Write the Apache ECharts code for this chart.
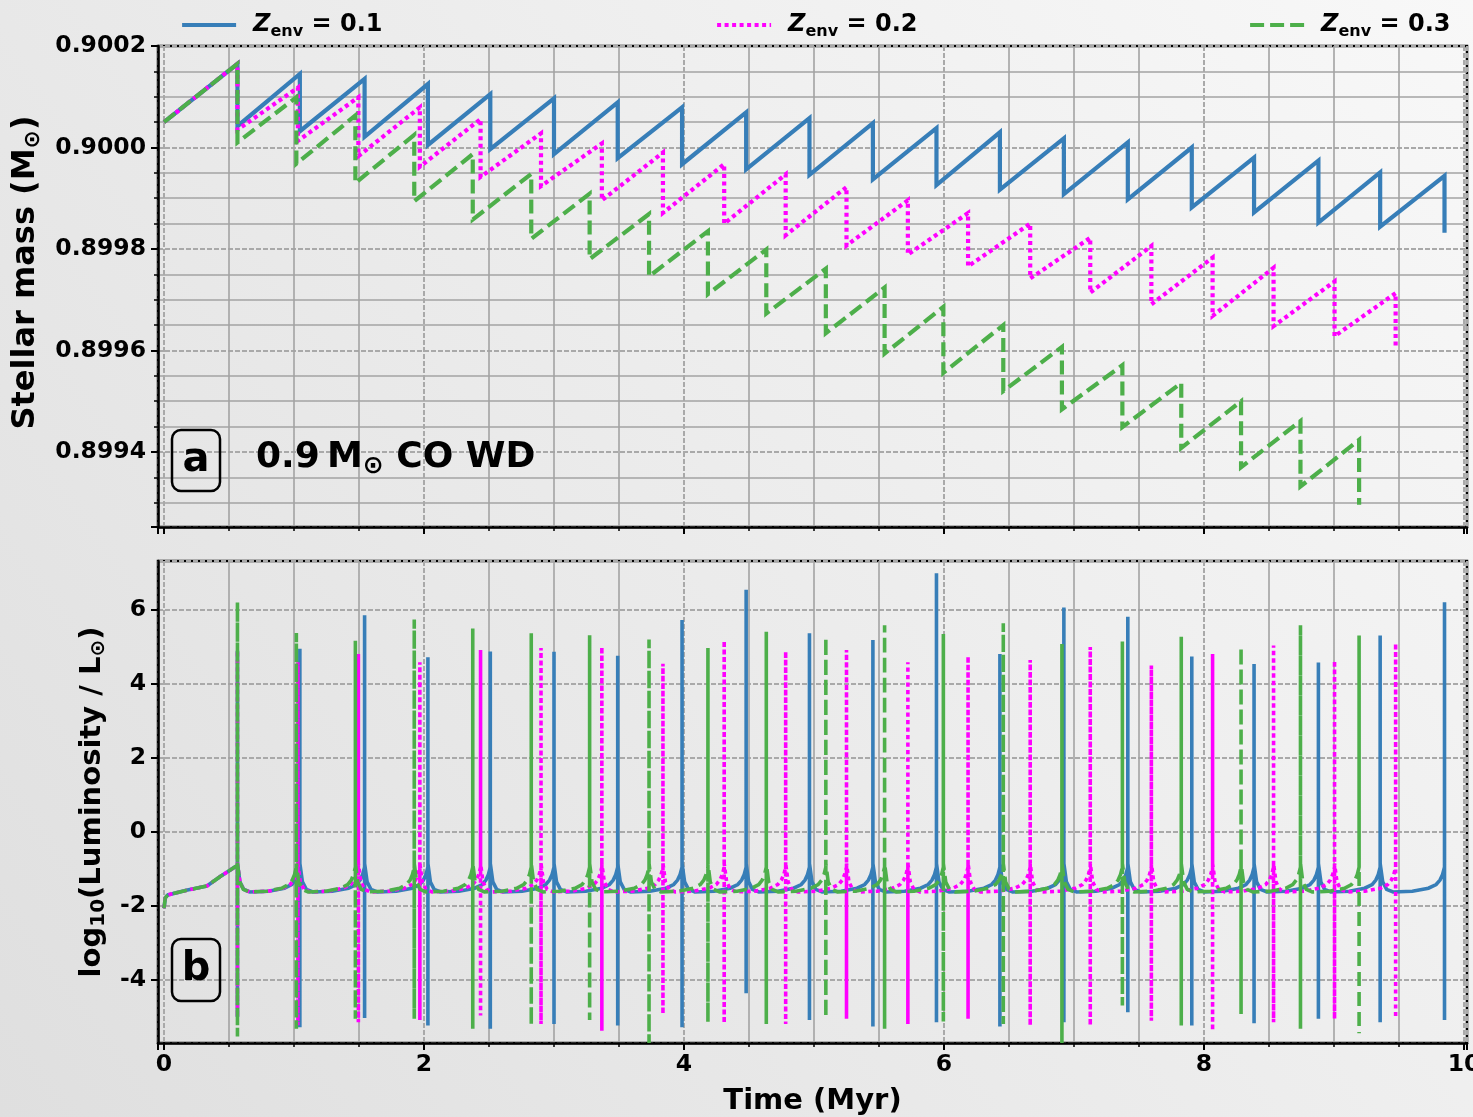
<!DOCTYPE html>
<html>
<head>
<meta charset="utf-8">
<title>Nova cycles of a 0.9 Msun CO white dwarf</title>
<script src="https://cdn.jsdelivr.net/npm/echarts@6/dist/echarts.min.js"></script>
<style>
  html, body { margin: 0; padding: 0; }
  #chart { width: 1473px; height: 1117px; }
</style>
</head>
<body>
<div id="chart"></div>
<script>
// ---- Flash epochs (Myr) for each envelope metallicity ----
const flashT_01 = [0.565, 1.045, 1.543, 2.03, 2.51, 3.0, 3.49, 3.985, 4.478, 4.965, 5.453, 5.942, 6.43, 6.922, 7.414, 7.906, 8.385, 8.88, 9.355, 9.85];
const flashT_02 = [0.565, 1.03, 1.495, 1.968, 2.435, 2.9, 3.368, 3.838, 4.309, 4.782, 5.25, 5.722, 6.185, 6.663, 7.125, 7.595, 8.066, 8.535, 9.004, 9.474];
const flashT_03 = [0.565, 1.018, 1.472, 1.925, 2.375, 2.825, 3.274, 3.731, 4.184, 4.633, 5.091, 5.543, 5.995, 6.456, 6.907, 7.372, 7.825, 8.285, 8.742, 9.193];

// ---- Stellar mass (Msun): value at t = 0, just before and just after each flash ----
const massStart = 0.90005;
const massPeak_01 = [0.900165, 0.900145, 0.900135, 0.900125, 0.900105, 0.900097, 0.900089, 0.900079, 0.900069, 0.900058, 0.900048, 0.900038, 0.90003, 0.900018, 0.90001, 0.9, 0.89998, 0.899974, 0.899951, 0.899944];
const massDrop_01 = [0.900042, 0.900032, 0.900021, 0.900005, 0.899997, 0.899987, 0.899979, 0.899967, 0.899957, 0.899946, 0.899937, 0.899926, 0.899917, 0.899908, 0.899898, 0.899882, 0.899872, 0.899852, 0.899844, 0.899832];
const massPeak_02 = [0.900165, 0.900118, 0.900099, 0.900079, 0.900056, 0.900028, 0.900008, 0.89999, 0.899967, 0.899947, 0.899922, 0.899896, 0.899871, 0.89985, 0.899822, 0.899806, 0.899783, 0.899763, 0.899736, 0.899713];
const massDrop_02 = [0.900035, 0.900013, 0.899983, 0.899962, 0.899942, 0.899924, 0.899896, 0.899871, 0.89985, 0.899827, 0.899807, 0.899789, 0.899766, 0.899742, 0.899714, 0.899691, 0.899668, 0.899648, 0.899628, 0.899605];
const massPeak_03 = [0.900165, 0.900099, 0.900063, 0.900025, 0.899987, 0.899948, 0.899909, 0.899869, 0.899835, 0.899799, 0.899761, 0.899724, 0.899686, 0.89965, 0.899607, 0.899571, 0.899536, 0.8995, 0.899461, 0.899424];
const massDrop_03 = [0.90001, 0.899968, 0.89993, 0.899894, 0.899858, 0.89982, 0.89978, 0.899746, 0.899711, 0.899673, 0.899634, 0.899594, 0.899556, 0.89952, 0.899484, 0.899449, 0.899408, 0.89937, 0.899332, 0.899296];

// ---- log10(L/Lsun): maximum and minimum reached during each flash ----
const lumTop_01 = [4.9, 4.95, 5.86, 4.72, 4.88, 4.87, 4.76, 5.73, 6.55, 5.37, 5.19, 6.99, 4.81, 6.07, 5.82, 4.74, 4.54, 4.58, 5.31, 6.21];
const lumBot_01 = [-5.0, -5.28, -5.03, -5.23, -5.32, -5.19, -5.23, -5.28, -4.36, -5.08, -5.26, -5.14, -5.26, -5.14, -4.87, -5.23, -5.17, -5.05, -5.14, -5.08];
const lumTop_02 = [4.9, 4.59, 4.81, 4.59, 4.92, 4.97, 5.0, 4.55, 5.17, 4.88, 4.92, 4.59, 4.75, 4.65, 5.0, 4.5, 4.81, 5.04, 4.63, 5.1];
const lumBot_02 = [-5.0, -5.22, -5.14, -5.08, -4.96, -5.19, -5.37, -4.92, -5.17, -5.19, -5.05, -5.19, -5.05, -5.23, -5.23, -5.1, -5.37, -5.14, -5.05, -5.01];
const lumTop_03 = [6.21, 5.38, 5.17, 5.74, 5.5, 5.37, 5.32, 5.2, 4.97, 5.41, 5.26, 5.59, 5.35, 5.64, 5.08, 5.15, 5.28, 5.0, 5.59, 5.31];
const lumBot_03 = [-5.53, -5.32, -5.05, -5.05, -5.32, -5.23, -5.08, -5.7, -5.14, -5.19, -5.01, -5.32, -5.12, -5.19, -5.7, -4.69, -5.23, -4.92, -5.32, -5.44];

// ---- Quiescent luminosity: first accretion phase (Myr, log L) and the
//      inter-flash profile (fraction of the cycle, log L) ----
const firstCycleT = [0, 0.01, 0.03, 0.18, 0.33, 0.43, 0.51, 0.565];
const firstCycleL = [-2.06, -1.78, -1.70, -1.57, -1.46, -1.21, -1.03, -0.9];
const cyclePhase = [0, 0.04, 0.1, 0.2, 0.5, 0.75, 0.87, 0.93, 0.97, 1.0];
const cycleL = [-0.85, -1.35, -1.55, -1.62, -1.6, -1.52, -1.42, -1.3, -1.15, -0.95];

// ---- Axis extents ----
const timeRange = [-0.0462, 10.023];
const massRange = [0.8992522, 0.9002];
const lumRange = [-5.703, 7.324];

const seriesNames = ['Zenv = 0.1', 'Zenv = 0.2', 'Zenv = 0.3'];
const seriesLabels = ['0.1', '0.2', '0.3'];

const FONT = '"DejaVu Sans", sans-serif';
const BLUE = '#377eb8', MAGENTA = '#ff00ff', GREEN = '#4daf4a';

function massPath(flashT, peak, drop) {
  const pts = [[0, massStart]];
  for (let i = 0; i < flashT.length; i++) {
    pts.push([flashT[i], peak[i]]);
    pts.push([flashT[i], drop[i]]);
  }
  return pts;
}

function lumPath(flashT, tops, bots) {
  const pts = [];
  for (let j = 0; j < firstCycleT.length; j++) pts.push([firstCycleT[j], firstCycleL[j]]);
  for (let i = 0; i < flashT.length; i++) {
    const t = flashT[i];
    pts.push([t, tops[i]]);
    pts.push([t, bots[i]]);
    if (i < flashT.length - 1) {
      const span = flashT[i + 1] - t;
      for (let k = 0; k < cyclePhase.length; k++) pts.push([t + cyclePhase[k] * span, cycleL[k]]);
    }
  }
  return pts;
}

const styles = [
  { color: BLUE, type: 'solid' },
  { color: MAGENTA, type: [4, 3.5] },
  { color: GREEN, type: [14, 6] }
];
const massData = [
  massPath(flashT_01, massPeak_01, massDrop_01),
  massPath(flashT_02, massPeak_02, massDrop_02),
  massPath(flashT_03, massPeak_03, massDrop_03)
];
const lumData = [
  lumPath(flashT_01, lumTop_01, lumBot_01),
  lumPath(flashT_02, lumTop_02, lumBot_02),
  lumPath(flashT_03, lumTop_03, lumBot_03)
];

const series = [];
for (let s = 0; s < 3; s++) {
  series.push({
    name: seriesNames[s], type: 'line', xAxisIndex: 0, yAxisIndex: 0,
    data: massData[s], showSymbol: false, symbol: 'none', animation: false,
    lineStyle: { color: styles[s].color, width: 4.2, type: styles[s].type, cap: 'butt', join: 'miter' },
    itemStyle: { color: styles[s].color }, z: 3 + s
  });
}
for (let s = 0; s < 3; s++) {
  series.push({
    name: seriesNames[s], type: 'line', xAxisIndex: 1, yAxisIndex: 1,
    data: lumData[s], showSymbol: false, symbol: 'none', animation: false,
    lineStyle: { color: styles[s].color, width: 3.6, type: styles[s].type, cap: 'butt', join: 'miter' },
    itemStyle: { color: styles[s].color }, z: 3 + s
  });
}

const tickFont = { fontFamily: FONT, fontWeight: 'bold', fontSize: 23.5, color: '#000' };
const majorSplit = { show: true, lineStyle: { color: '#a9a9a9', width: 2, type: [5, 2] } };
const minorSplit = { show: true, lineStyle: { color: '#a3a3a3', width: 1.6, type: 'solid' } };
const axisLine = { show: true, onZero: false, lineStyle: { color: '#000', width: 2.5 } };

function timeAxis(gridIndex, withLabels) {
  return {
    type: 'value', gridIndex: gridIndex, min: timeRange[0], max: timeRange[1], splitNumber: 5,
    axisLine: axisLine,
    axisTick: { show: true, length: 7, lineStyle: { color: '#000', width: 2 } },
    minorTick: { show: true, splitNumber: 4, length: 4, lineStyle: { color: '#000', width: 1.5 } },
    splitLine: majorSplit, minorSplitLine: minorSplit,
    axisLabel: Object.assign({ show: withLabels, margin: 10, showMinLabel: false, showMaxLabel: false,
      formatter: v => String(Math.round(v)) }, tickFont),
    name: withLabels ? 'Time (Myr)' : '', nameLocation: 'middle', nameGap: 44,
    nameTextStyle: { fontFamily: FONT, fontWeight: 'bold', fontSize: 29, color: '#000' }
  };
}

const gridBase = { left: 158, width: 1309, show: true, borderColor: '#000', borderWidth: 2.5,
  backgroundColor: 'transparent', containLabel: false, outerBoundsMode: 'none' };

const option = {
  backgroundColor: new echarts.graphic.LinearGradient(1, 0, 0, 1, [
    { offset: 0, color: '#f8f8f8' }, { offset: 1, color: '#dfdfdf' }
  ]),
  animation: false,
  grid: [
    Object.assign({ top: 46, height: 481 }, gridBase),
    Object.assign({ top: 561, height: 482 }, gridBase)
  ],
  legend: seriesNames.map((n, i) => ({
    data: [n], left: [175, 710, 1243][i], top: 8, itemWidth: 54, itemHeight: 14, itemGap: 0,
    selectedMode: false,
    itemStyle: { opacity: 0, borderWidth: 0 },
    lineStyle: { width: 4.2 },
    formatter: () => '{z|Z}{e|env}{t| = ' + seriesLabels[i] + '}',
    textStyle: {
      padding: [0, 0, 0, 12],
      rich: {
        z: { fontFamily: FONT, fontWeight: 'bold', fontStyle: 'italic', fontSize: 24, color: '#000', lineHeight: 30 },
        e: { fontFamily: FONT, fontWeight: 'bold', fontSize: 16, color: '#000', lineHeight: 14, verticalAlign: 'bottom' },
        t: { fontFamily: FONT, fontWeight: 'bold', fontSize: 24, color: '#000', lineHeight: 30 }
      }
    }
  })),
  xAxis: [timeAxis(0, false), timeAxis(1, true)],
  yAxis: [
    {
      type: 'value', gridIndex: 0, min: massRange[0], max: massRange[1], splitNumber: 5,
      axisLine: axisLine,
      axisTick: { show: true, length: 7, lineStyle: { color: '#000', width: 2 } },
      minorTick: { show: true, splitNumber: 4, length: 4, lineStyle: { color: '#000', width: 1.5 } },
      splitLine: majorSplit, minorSplitLine: minorSplit,
      axisLabel: Object.assign({ margin: 12, showMinLabel: false, showMaxLabel: true,
        formatter: v => v.toFixed(4) }, tickFont),
      name: '{a|Stellar mass (M}{s|⊙}{a|)}', nameLocation: 'middle', nameRotate: 90, nameGap: 103,
      nameTextStyle: { padding: [0, 0, 0, 28], rich: {
        a: { fontFamily: FONT, fontWeight: 'bold', fontSize: 32, color: '#000', lineHeight: 37 },
        s: { fontFamily: FONT, fontWeight: 'bold', fontSize: 22, color: '#000', lineHeight: 19, verticalAlign: 'bottom' }
      } }
    },
    {
      type: 'value', gridIndex: 1, min: lumRange[0], max: lumRange[1], splitNumber: 6,
      axisLine: axisLine,
      axisTick: { show: true, length: 7, lineStyle: { color: '#000', width: 2 } },
      minorTick: { show: false },
      splitLine: majorSplit,
      axisLabel: Object.assign({ margin: 12, showMinLabel: false, showMaxLabel: false,
        formatter: v => String(Math.round(v)) }, tickFont),
      name: '{a|log}{s|10}{a|(Luminosity / L}{s|⊙}{a|)}', nameLocation: 'middle', nameRotate: 90, nameGap: 40,
      nameTextStyle: { rich: {
        a: { fontFamily: FONT, fontWeight: 'bold', fontSize: 29, color: '#000', lineHeight: 34 },
        s: { fontFamily: FONT, fontWeight: 'bold', fontSize: 20, color: '#000', lineHeight: 18, verticalAlign: 'bottom' }
      } }
    }
  ],
  graphic: [
    { type: 'rect', shape: { x: 172, y: 430, width: 48, height: 61, r: 9 }, style: { fill: 'rgba(0,0,0,0)', stroke: '#000', lineWidth: 2.5 }, z: 20 },
    { type: 'text', x: 196, y: 461, z: 20, style: { text: 'a', fontFamily: FONT, fontWeight: 'bold', fontSize: 40, fill: '#000', align: 'center', verticalAlign: 'middle', textAlign: 'center', textVerticalAlign: 'middle' } },
    { type: 'text', x: 256, y: 458, z: 20, style: {
        text: '{a|0.9\u2009M}{s|⊙}{a| CO WD}', align: 'left', verticalAlign: 'middle', textAlign: 'left', textVerticalAlign: 'middle',
        rich: {
          a: { fontFamily: FONT, fontWeight: 'bold', fontSize: 36, fill: '#000', lineHeight: 42 },
          s: { fontFamily: FONT, fontWeight: 'bold', fontSize: 25, fill: '#000', lineHeight: 22, verticalAlign: 'bottom' }
        } } },
    { type: 'rect', shape: { x: 172, y: 939, width: 48, height: 62, r: 9 }, style: { fill: 'rgba(0,0,0,0)', stroke: '#000', lineWidth: 2.5 }, z: 20 },
    { type: 'text', x: 196, y: 970, z: 20, style: { text: 'b', fontFamily: FONT, fontWeight: 'bold', fontSize: 40, fill: '#000', align: 'center', verticalAlign: 'middle', textAlign: 'center', textVerticalAlign: 'middle' } }
  ],
  series: series
};

const chart = echarts.init(document.getElementById('chart'), null, { renderer: 'canvas' });
chart.setOption(option);
</script>
</body>
</html>
